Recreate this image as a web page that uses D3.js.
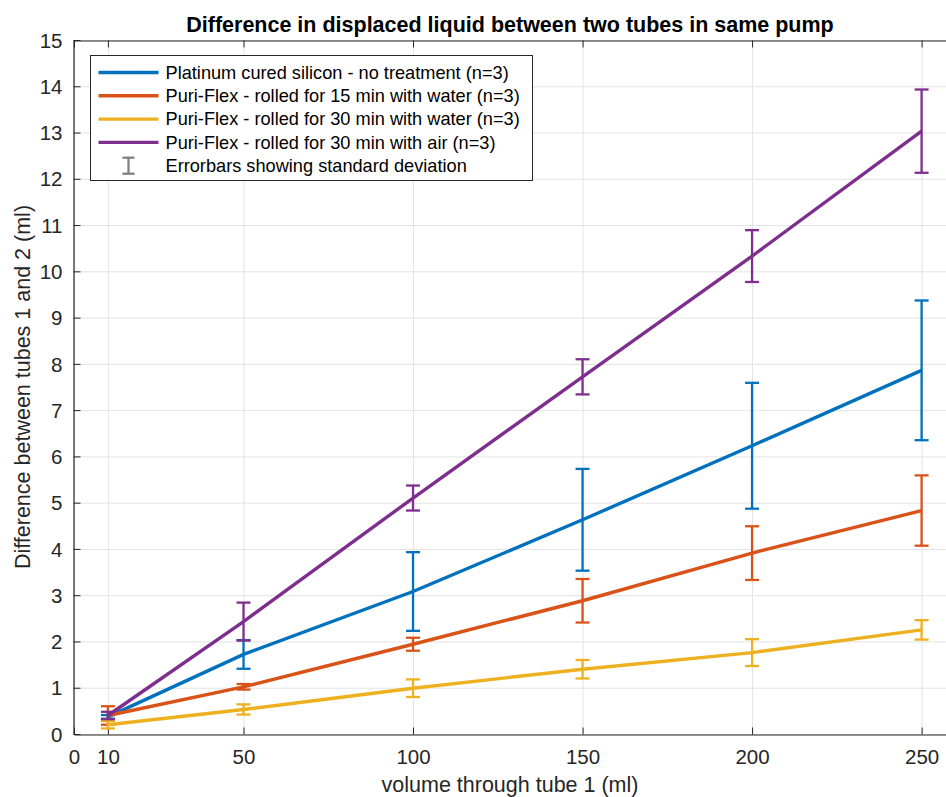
<!DOCTYPE html>
<html>
<head>
<meta charset="utf-8">
<script src="https://cdn.jsdelivr.net/npm/d3@7"></script>
<style>
  body { margin: 0; background: #fff; }
  svg { font-family: "Liberation Sans", Arial, Helvetica, sans-serif; }
</style>
</head>
<body>
<svg id="chart"></svg>
<script>
// volume through tube 1 (ml)
const volumes = [10, 50, 100, 150, 200, 250]
const xTicks = [0, 10, 50, 100, 150, 200, 250]
const yTicks = d3.range(0, 16)

const seriesNames = [
	"Platinum cured silicon - no treatment (n=3)",
	"Puri-Flex - rolled for 15 min with water (n=3)",
	"Puri-Flex - rolled for 30 min with water (n=3)",
	"Puri-Flex - rolled for 30 min with air (n=3)",
]
const seriesColors = ["#0072BD", "#D95319", "#EDB120", "#7E2F8E"]

// mean difference (ml)
const platinumMean = [0.37, 1.72, 3.08, 4.63, 6.23, 7.86]
const water15Mean = [0.40, 1.02, 1.94, 2.88, 3.91, 4.83]
const water30Mean = [0.20, 0.53, 0.99, 1.40, 1.76, 2.25]
const air30Mean = [0.40, 2.43, 5.10, 7.72, 10.33, 13.03]

// standard deviation (ml)
const platinumSd = [0.04, 0.31, 0.85, 1.10, 1.36, 1.51]
const water15Sd = [0.20, 0.06, 0.14, 0.47, 0.58, 0.76]
const water30Sd = [0.08, 0.11, 0.19, 0.20, 0.29, 0.21]
const air30Sd = [0.08, 0.41, 0.27, 0.38, 0.56, 0.90]

const means = [platinumMean, water15Mean, water30Mean, air30Mean]
const sds = [platinumSd, water15Sd, water30Sd, air30Sd]

const width = 946
const height = 797
const margin = { top: 40, bottom: 63, left: 74, right: 0 }

const svg = d3.select("#chart").attr("width", width).attr("height", height)

const scale = {
	x: d3.scaleLinear().domain([0, 257.2]).range([margin.left, width - margin.right]),
	y: d3.scaleLinear().domain([0, 15]).range([height - margin.bottom, margin.top]),
}

const plotTop = margin.top
const plotBottom = height - margin.bottom
const plotLeft = margin.left
const plotRight = width - margin.right

// grid
svg.append("g")
	.selectAll("line")
	.data(yTicks)
	.join("line")
	.attr("x1", plotLeft)
	.attr("x2", plotRight)
	.attr("y1", (d) => scale.y(d) + 0.5)
	.attr("y2", (d) => scale.y(d) + 0.5)
	.attr("stroke", "#e3e3e3")
	.attr("stroke-width", 1)

svg.append("g")
	.selectAll("line")
	.data(xTicks)
	.join("line")
	.attr("x1", (d) => scale.x(d) + 0.5)
	.attr("x2", (d) => scale.x(d) + 0.5)
	.attr("y1", plotTop)
	.attr("y2", plotBottom)
	.attr("stroke", "#e3e3e3")
	.attr("stroke-width", 1)

// axes (ticks point inward, MATLAB style)
const axis = {
	x: (g) =>
		g
			.attr("transform", `translate(0, ${plotBottom + 0.5})`)
			.call(d3.axisBottom(scale.x).tickValues(xTicks).tickSizeInner(-7).tickSizeOuter(0).tickPadding(15)),
	xTop: (g) =>
		g
			.attr("transform", `translate(0, ${plotTop + 0.5})`)
			.call(d3.axisTop(scale.x).tickValues(xTicks).tickSizeInner(-7).tickSizeOuter(0).tickFormat("")),
	y: (g) =>
		g
			.attr("transform", `translate(${plotLeft - 0.5}, 0)`)
			.call(d3.axisLeft(scale.y).tickValues(yTicks).tickSizeInner(-7).tickSizeOuter(0).tickPadding(11)),
}

svg.append("g").attr("class", "x-axis").call(axis.x)
svg.append("g").attr("class", "x-axis-top").call(axis.xTop)
svg.append("g").attr("class", "y-axis").call(axis.y)

svg.selectAll(".x-axis path, .x-axis-top path, .y-axis path")
	.attr("stroke", "#262626")
	.attr("stroke-width", 1.2)
svg.selectAll(".x-axis line, .x-axis-top line, .y-axis line").attr("stroke", "#262626")
svg.selectAll(".x-axis text, .y-axis text")
	.attr("fill", "#262626")
	.style("font-size", "20.5px")
svg.selectAll(".y-axis text").attr("dy", "0.35em")

// series lines
const line = d3
	.line()
	.x((d) => scale.x(d[0]))
	.y((d) => scale.y(d[1]))

const capHalf = 7

means.forEach((m, i) => {
	const pts = volumes.map((v, j) => [v, m[j], sds[i][j]])
	const g = svg.append("g")

	g.append("path")
		.datum(pts)
		.attr("d", line)
		.attr("fill", "none")
		.attr("stroke", seriesColors[i])
		.attr("stroke-width", 3.4)

	// errorbars
	const eb = g.selectAll("g.eb").data(pts).join("g").attr("class", "eb")
	eb.append("line")
		.attr("x1", (d) => scale.x(d[0]))
		.attr("x2", (d) => scale.x(d[0]))
		.attr("y1", (d) => scale.y(d[1] + d[2]))
		.attr("y2", (d) => scale.y(d[1] - d[2]))
	eb.append("line")
		.attr("x1", (d) => scale.x(d[0]) - capHalf)
		.attr("x2", (d) => scale.x(d[0]) + capHalf)
		.attr("y1", (d) => scale.y(d[1] + d[2]))
		.attr("y2", (d) => scale.y(d[1] + d[2]))
	eb.append("line")
		.attr("x1", (d) => scale.x(d[0]) - capHalf)
		.attr("x2", (d) => scale.x(d[0]) + capHalf)
		.attr("y1", (d) => scale.y(d[1] - d[2]))
		.attr("y2", (d) => scale.y(d[1] - d[2]))
	eb.selectAll("line")
		.attr("stroke", seriesColors[i])
		.attr("stroke-width", 2.3)
})

// title + labels
svg.append("text")
	.attr("x", 510)
	.attr("y", 32)
	.attr("text-anchor", "middle")
	.attr("fill", "#000")
	.style("font-size", "21.5px")
	.style("font-weight", "bold")
	.text("Difference in displaced liquid between two tubes in same pump")

svg.append("text")
	.attr("x", 510)
	.attr("y", 792)
	.attr("text-anchor", "middle")
	.attr("fill", "#262626")
	.style("font-size", "21.5px")
	.text("volume through tube 1 (ml)")

svg.append("text")
	.attr("transform", `translate(30, ${(plotTop + plotBottom) / 2}) rotate(-90)`)
	.attr("text-anchor", "middle")
	.attr("fill", "#262626")
	.style("font-size", "21.5px")
	.text("Difference between tubes 1 and 2 (ml)")

// legend
const legend = svg.append("g").attr("transform", "translate(90.5, 55.5)")
legend.append("rect")
	.attr("width", 442)
	.attr("height", 125)
	.attr("fill", "#fff")
	.attr("stroke", "#262626")
	.attr("stroke-width", 1)

const rowY = (i) => 17 + i * 23.3
seriesNames.forEach((name, i) => {
	legend.append("line")
		.attr("x1", 8)
		.attr("x2", 68)
		.attr("y1", rowY(i))
		.attr("y2", rowY(i))
		.attr("stroke", seriesColors[i])
		.attr("stroke-width", 3.4)
	legend.append("text")
		.attr("x", 75)
		.attr("y", rowY(i))
		.attr("dy", "0.35em")
		.attr("fill", "#000")
		.style("font-size", "18.2px")
		.text(name)
})
const ey = rowY(4)
const eb = legend.append("g").attr("stroke", "#808080").attr("stroke-width", 2.3)
eb.append("line").attr("x1", 38).attr("x2", 38).attr("y1", ey - 8).attr("y2", ey + 8)
eb.append("line").attr("x1", 32).attr("x2", 44).attr("y1", ey - 8).attr("y2", ey - 8)
eb.append("line").attr("x1", 32).attr("x2", 44).attr("y1", ey + 8).attr("y2", ey + 8)
legend.append("text")
	.attr("x", 75)
	.attr("y", ey)
	.attr("dy", "0.35em")
	.attr("fill", "#000")
	.style("font-size", "18.2px")
	.text("Errorbars showing standard deviation")
</script>
</body>
</html>
